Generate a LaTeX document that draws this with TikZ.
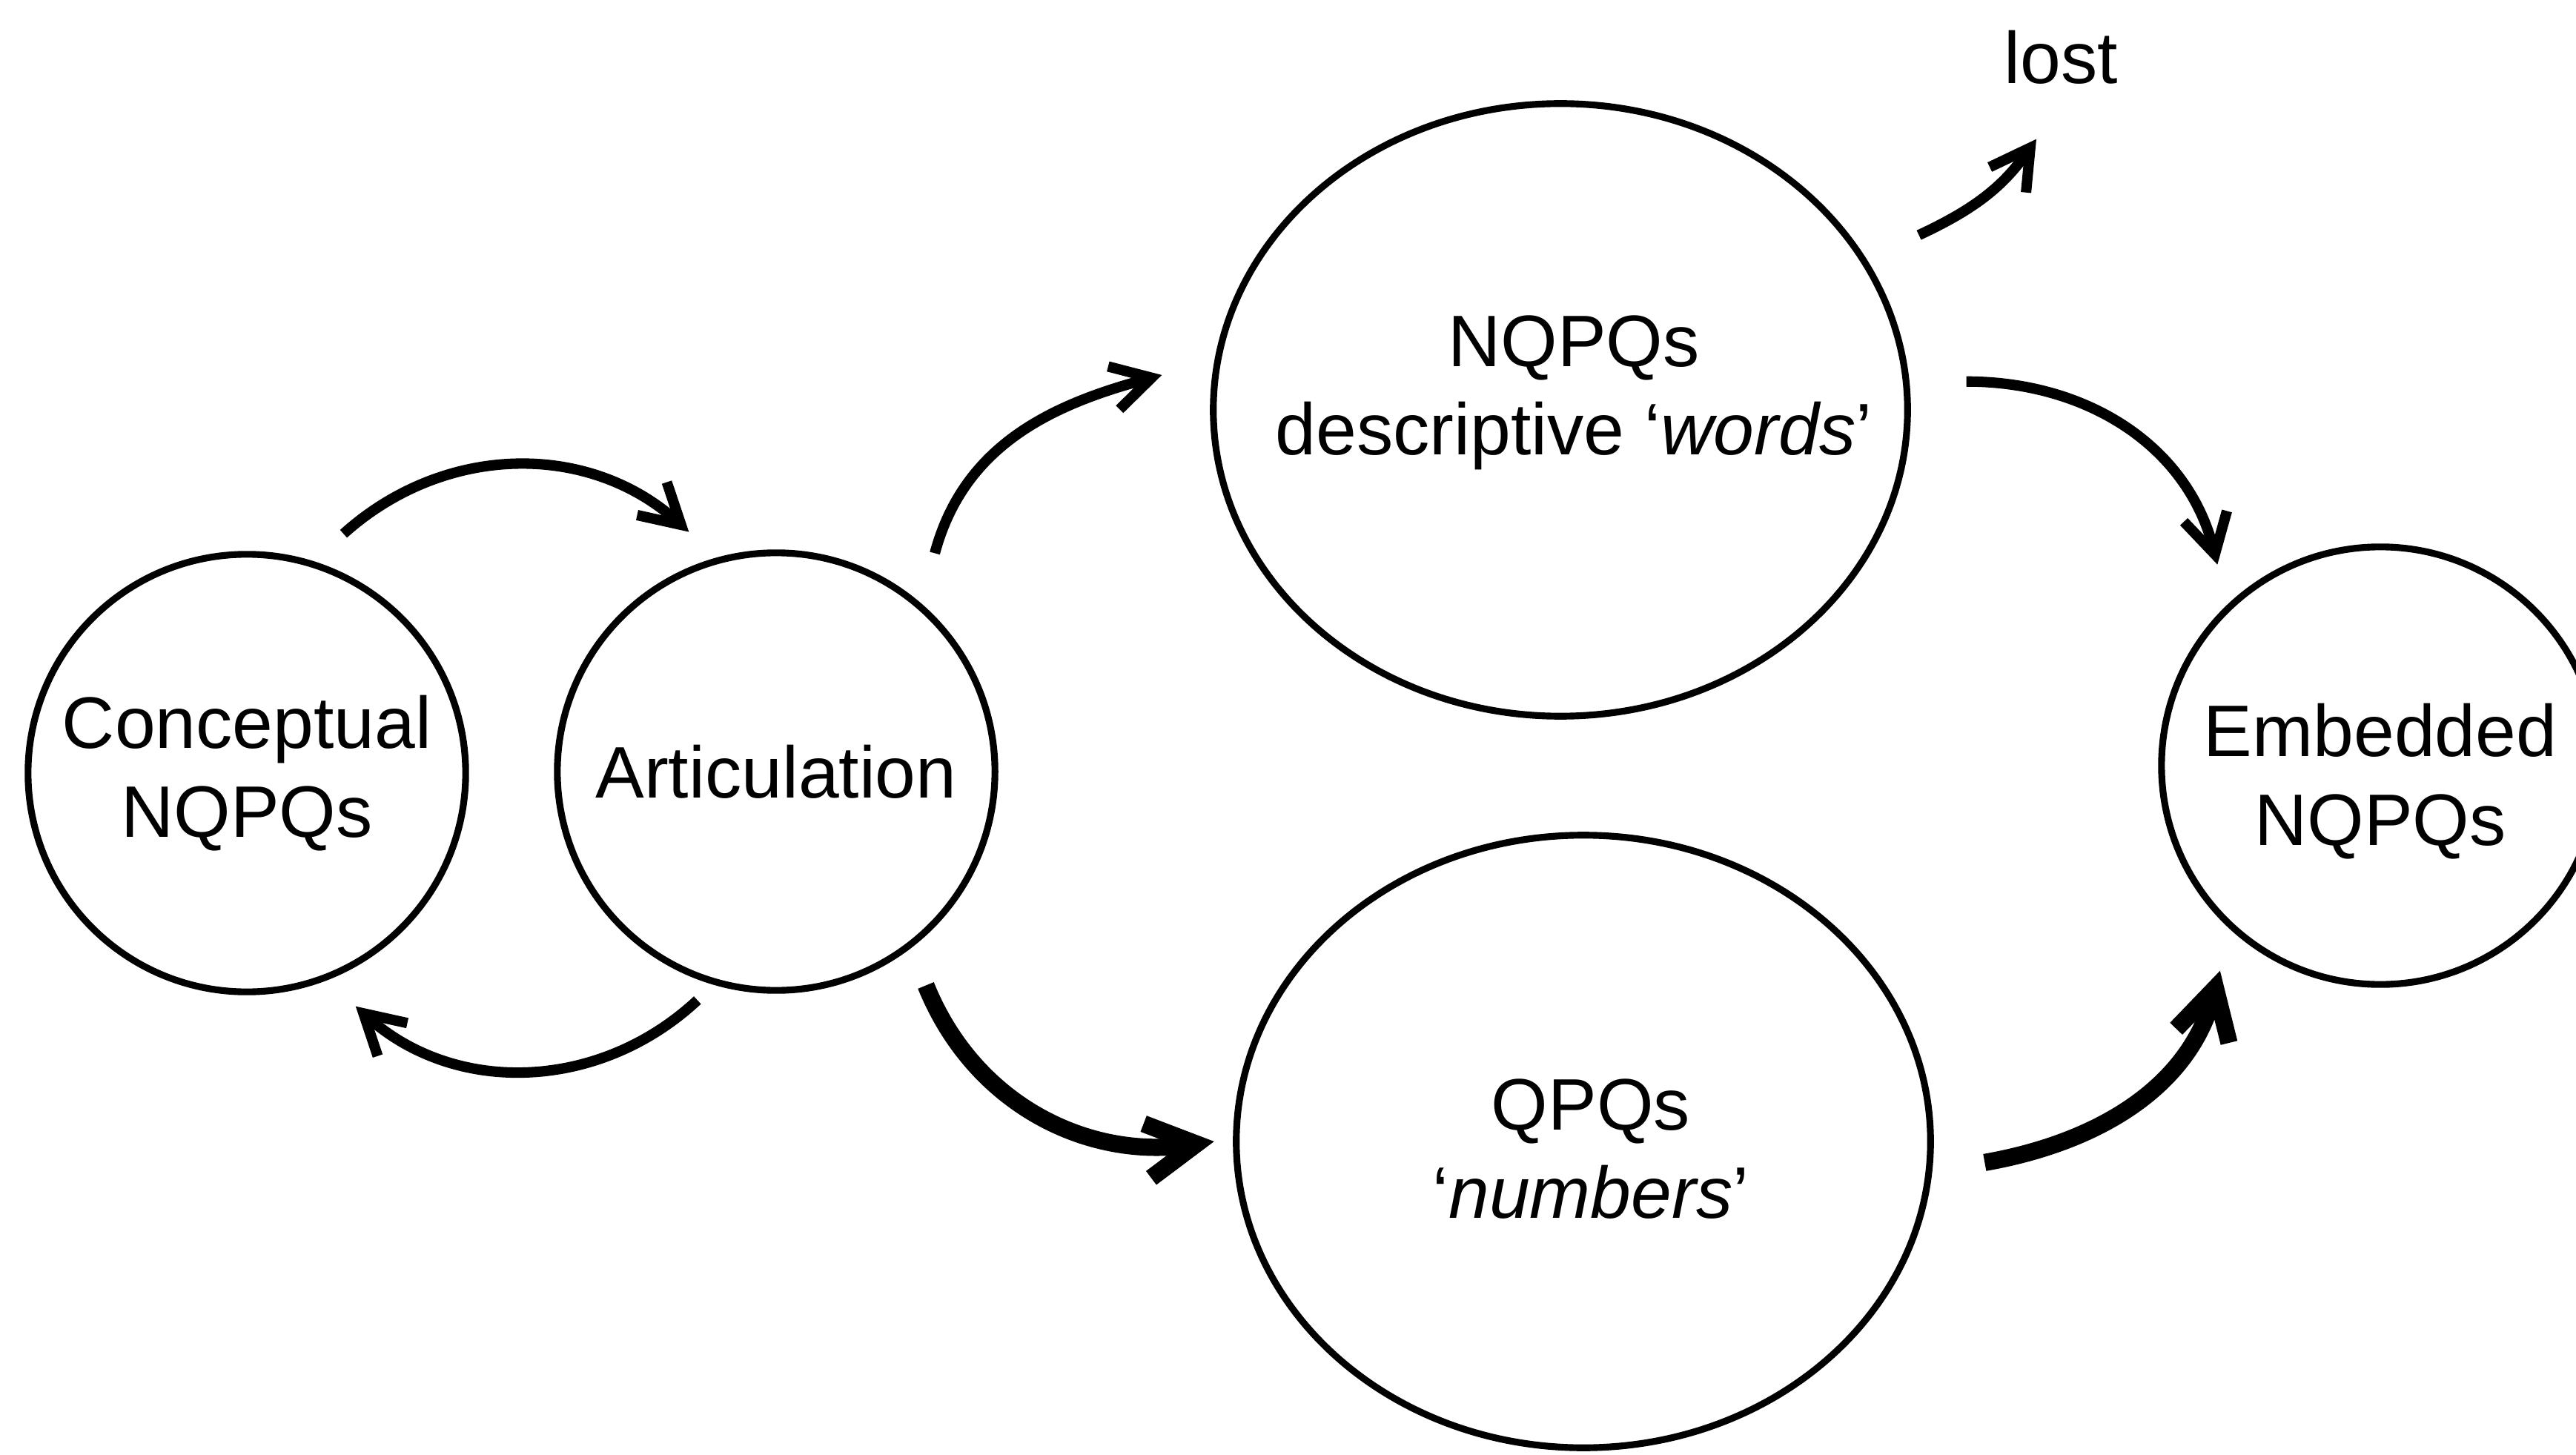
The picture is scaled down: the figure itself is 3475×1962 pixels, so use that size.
\documentclass[tikz,border=0pt]{standalone}
\usepackage{fontspec}
\setmainfont{Liberation Sans}
\usetikzlibrary{arrows.meta,shapes.geometric}
\begin{document}
\begin{tikzpicture}[x=0.01cm,y=0.01cm,
  every node/.style={font=\fontsize{28}{34}\selectfont, align=center},
  stage/.style={circle, draw, line width=2.6pt, minimum size=5.9cm, inner sep=0pt, outer sep=0pt},
  field/.style={ellipse, draw, line width=2.6pt, minimum width=9.36cm, minimum height=8.26cm, inner sep=0pt, outer sep=0pt},
  txt/.style={inner sep=0pt},
  flow/.style={line width=4pt, -{Straight Barb[length=15pt,width=17pt]}},
  mainflow/.style={line width=6.6pt, -{Straight Barb[length=19pt,width=21pt]}}]

% canvas
\fill[white] (0,0) rectangle (3475,1962);
\useasboundingbox (0,0) rectangle (3475,1962);

% stages
\node[stage] (conc) at (333,919) {Conceptual\\NQPQs};
\node[stage] (art) at (1047,921) {Articulation};
\node[field] (words) at (2105,1409) {};
\node[txt] (wordstext) at (2123,1432) {NQPQs\\descriptive ‘\textit{words}’};
\node[field] (nums) at (2136,422) {};
\node[txt] (numstext) at (2146,412) {QPQs\\‘\textit{numbers}’};
\node[stage] (emb) at (3211,929) {};
\node[txt] (embtext) at ([shift={(0,-21)}]emb.center) {Embedded\\NQPQs};
\node[txt, anchor=base] (lost) at (2780,1849) {lost};

% cycle between conception and articulation
\draw[flow] ([shift={(68:53)}]conc.68) to[out=42,in=138] ([shift={(110:49)}]art.110);
\draw[flow] ([shift={(251:31)}]art.251) to[out=223,in=318] ([shift={(295:52)}]conc.295);

% articulation into words and numbers
\draw[flow] ([shift={(54:69)}]art.54) to[out=75,in=195] ([shift={(175:72)}]words.175);
\draw[mainflow] ([shift={(305:57)}]art.305) to[out=-68,in=188] ([shift={(180:30)}]nums.180);

% words partly lost, partly embedded
\draw[flow] ([shift={(26:82)}]words.26) to[out=25,in=235] ([shift={(-33,-73)}]lost.south);
\draw[flow] ([shift={(4:81)}]words.4) to[out=0,in=104] ([shift={(129:54)}]emb.129);

% numbers embedded
\draw[mainflow] ([shift={(357:74)}]nums.357) to[out=10,in=255] ([shift={(232:56)}]emb.232);
\end{tikzpicture}
\end{document}
